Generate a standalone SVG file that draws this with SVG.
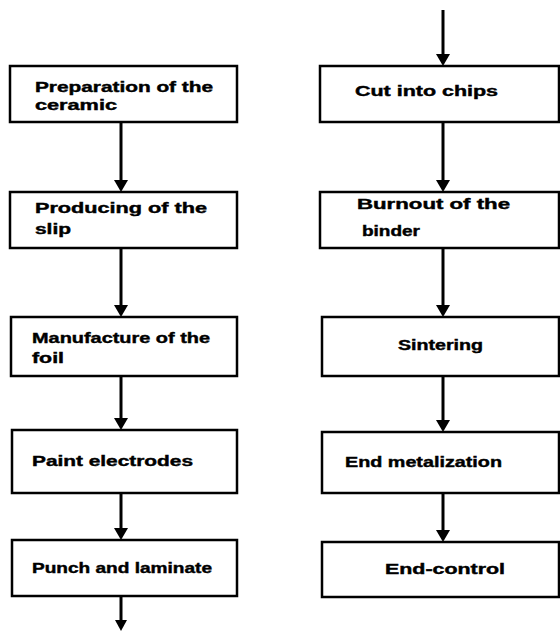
<svg xmlns="http://www.w3.org/2000/svg" width="560" height="639" viewBox="0 0 560 639">
<defs>
<style>
.box{fill:#fff;stroke:#000;stroke-width:2.5}
.t{font-family:"Liberation Sans",Arial,sans-serif;font-weight:bold;font-size:14px;fill:#000;stroke:#000;stroke-width:0.4}
.c{stroke:#000;stroke-width:3;fill:none}
</style>
</defs>
<rect width="560" height="639" fill="#fff"/>
<g id="connectors">
<path class="c" d="M121,122 V180"/><path d="M114,180 L128,180 L121,192 Z"/>
<path class="c" d="M121,248 V305"/><path d="M114,305 L128,305 L121,317 Z"/>
<path class="c" d="M121,376 V418"/><path d="M114,418 L128,418 L121,430 Z"/>
<path class="c" d="M121,493 V528"/><path d="M114,528 L128,528 L121,540 Z"/>
<path class="c" d="M121,596 V620"/><path d="M115,620 L127,620 L121,631 Z"/>
<path class="c" d="M443,10 V54"/><path d="M436,54 L450,54 L443,66 Z"/>
<path class="c" d="M443,122 V180"/><path d="M436,180 L450,180 L443,192 Z"/>
<path class="c" d="M443,248 V305"/><path d="M436,305 L450,305 L443,317 Z"/>
<path class="c" d="M443,376 V420"/><path d="M436,420 L450,420 L443,432 Z"/>
<path class="c" d="M443,493 V530"/><path d="M436,530 L450,530 L443,542 Z"/>
</g>
<g id="n1"><rect class="box" x="10" y="66" width="227" height="56"/>
<text class="t" x="35" y="92" textLength="178" lengthAdjust="spacingAndGlyphs">Preparation of the</text>
<text class="t" x="35" y="110" textLength="82" lengthAdjust="spacingAndGlyphs">ceramic</text></g>
<g id="n2"><rect class="box" x="10" y="192" width="227" height="56"/>
<text class="t" x="35" y="213" textLength="172" lengthAdjust="spacingAndGlyphs">Producing of the</text>
<text class="t" x="35" y="234" textLength="36" lengthAdjust="spacingAndGlyphs">slip</text></g>
<g id="n3"><rect class="box" x="11" y="317" width="226" height="59"/>
<text class="t" x="32" y="343" textLength="178" lengthAdjust="spacingAndGlyphs">Manufacture of the</text>
<text class="t" x="32" y="363" textLength="32" lengthAdjust="spacingAndGlyphs">foil</text></g>
<g id="n4"><rect class="box" x="12" y="430" width="225" height="63"/>
<text class="t" x="32" y="466" textLength="161" lengthAdjust="spacingAndGlyphs">Paint electrodes</text></g>
<g id="n5"><rect class="box" x="12" y="540" width="225" height="56"/>
<text class="t" x="32" y="573" textLength="180" lengthAdjust="spacingAndGlyphs">Punch and laminate</text></g>
<g id="n6"><rect class="box" x="320" y="66" width="239" height="56"/>
<text class="t" x="355" y="96" textLength="143" lengthAdjust="spacingAndGlyphs">Cut into chips</text></g>
<g id="n7"><rect class="box" x="320" y="192" width="239" height="56"/>
<text class="t" x="357" y="209" textLength="153" lengthAdjust="spacingAndGlyphs">Burnout of the</text>
<text class="t" x="362" y="236" textLength="58" lengthAdjust="spacingAndGlyphs">binder</text></g>
<g id="n8"><rect class="box" x="322" y="317" width="237" height="59"/>
<text class="t" x="398" y="350" textLength="85" lengthAdjust="spacingAndGlyphs">Sintering</text></g>
<g id="n9"><rect class="box" x="322" y="432" width="237" height="61"/>
<text class="t" x="345" y="467" textLength="157" lengthAdjust="spacingAndGlyphs">End metalization</text></g>
<g id="n10"><rect class="box" x="322" y="542" width="237" height="55"/>
<text class="t" x="385" y="574" textLength="120" lengthAdjust="spacingAndGlyphs">End-control</text></g>
</svg>
